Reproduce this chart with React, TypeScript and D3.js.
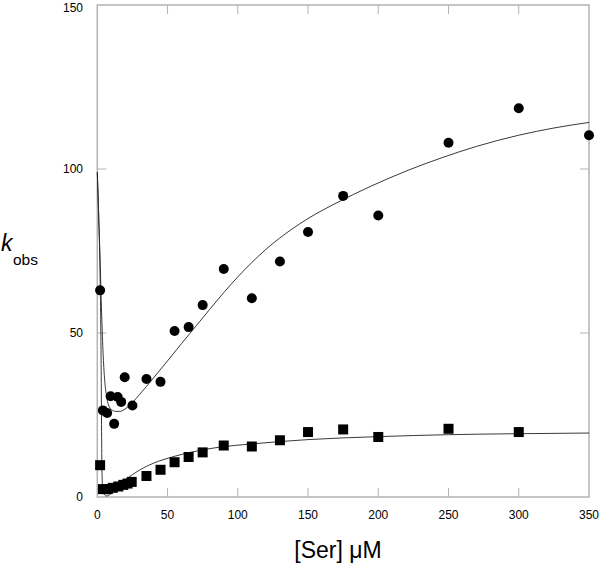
import React from "react";
import * as d3 from "d3";

const circleX = [2, 4, 7, 9.5, 12, 14.5, 17, 19.5, 25, 35, 45, 55, 65, 75, 90, 110, 130, 150, 175, 200, 250, 300, 350];
const circleY = [63, 26.4, 25.6, 30.7, 22.3, 30.5, 29, 36.5, 27.9, 36, 35.1, 50.6, 51.8, 58.5, 69.5, 60.6, 71.8, 80.8, 91.8, 85.8, 108, 118.5, 110.3];

const squareX = [2, 4, 7.5, 11, 15, 18.5, 21.5, 24.5, 35, 45, 55, 65, 75, 90, 110, 130, 150, 175, 200, 250, 300];
const squareY = [9.7, 2.4, 2.4, 2.8, 3.2, 3.7, 4.1, 4.6, 6.4, 8.3, 10.6, 12.2, 13.6, 15.7, 15.4, 17.3, 19.8, 20.6, 18.3, 20.8, 19.8];

const fitCircleX = [0, 1, 2, 3, 4, 5, 6.5, 8, 10, 13, 16, 19, 22, 25, 30, 40, 50, 60, 70, 80, 90, 100, 110, 120, 130, 140, 150, 170, 195, 220, 245, 270, 300, 325, 350];
const fitCircleY = [99, 85, 72, 57, 45, 37, 31, 28, 26.7, 26.1, 26.1, 26.6, 27.6, 28.8, 31.2, 36.3, 41.5, 46.8, 52, 57.2, 62.3, 67.1, 71.5, 75.5, 79.0, 82.1, 84.9, 89.6, 94.8, 99.4, 103.4, 106.9, 110.3, 112.5, 114.2];

const fitSquareX = [0, 1, 1.8, 2.7, 3.2, 3.6, 4.5, 6.5, 9, 12, 16, 20, 25, 30, 40, 55, 66, 87, 108, 130, 150, 200, 250, 300, 350];
const fitSquareY = [99, 86, 72, 42, 12, 4, 1.2, 0.3, 0.8, 2, 3.8, 5.3, 6.8, 8.2, 10.3, 12.4, 13.6, 15.2, 16.1, 16.9, 17.5, 18.4, 19, 19.3, 19.5];

const xTicks = [0, 50, 100, 150, 200, 250, 300, 350];
const yTicks = [0, 50, 100, 150];

const W = 600;
const H = 565;
const L = 97.3;
const R = 589;
const T = 5;
const B = 497;
const FONT = "'Liberation Sans', Arial, Helvetica, sans-serif";

export default function App() {
  const x = d3.scaleLinear().domain([0, 350]).range([L, R]);
  const y = d3.scaleLinear().domain([0, 150]).range([B, T]);
  const line = d3
    .line<[number, number]>()
    .x((d) => x(d[0]))
    .y((d) => y(d[1]))
    .curve(d3.curveMonotoneX);
  const c1 = line(fitCircleX.map((v, i) => [v, fitCircleY[i]] as [number, number])) || "";
  const c2 = line(fitSquareX.map((v, i) => [v, fitSquareY[i]] as [number, number])) || "";
  const axisColor = "#b3b3b3";
  const tickLen = 9;
  const sq = 10;

  return (
    <svg
      width={W}
      height={H}
      style={{ position: "absolute", left: 0, top: 0, background: "#fff" }}
      fontFamily={FONT}
    >
      <rect x={0} y={0} width={W} height={H} fill="#fff" />
      {xTicks.slice(1, -1).map((t) => (
        <g key={"xt" + t}>
          <line x1={x(t)} x2={x(t)} y1={B} y2={B - tickLen} stroke={axisColor} strokeWidth={1} />
          <line x1={x(t)} x2={x(t)} y1={T} y2={T + tickLen} stroke={axisColor} strokeWidth={1} />
        </g>
      ))}
      {yTicks.slice(1, -1).map((t) => (
        <g key={"yt" + t}>
          <line x1={L} x2={L + tickLen} y1={y(t)} y2={y(t)} stroke={axisColor} strokeWidth={1} />
          <line x1={R} x2={R - tickLen} y1={y(t)} y2={y(t)} stroke={axisColor} strokeWidth={1} />
        </g>
      ))}
      <rect x={L} y={T} width={R - L} height={B - T} fill="none" stroke={axisColor} strokeWidth={1.5} />
      {xTicks.map((t) => (
        <text key={"xl" + t} x={x(t)} y={519} fontSize={12} textAnchor="middle" fill="#000">
          {t}
        </text>
      ))}
      {yTicks.map((t) => (
        <text key={"yl" + t} x={83} y={Math.max(y(t) + 4.3, 11.5)} fontSize={12} textAnchor="end" fill="#000">
          {t}
        </text>
      ))}
      <path d={c1} fill="none" stroke="#222" strokeWidth={0.9} />
      <path d={c2} fill="none" stroke="#222" strokeWidth={0.9} />
      {circleX.map((v, i) => (
        <circle key={"c" + i} cx={x(v)} cy={y(circleY[i])} r={5} fill="#000" />
      ))}
      {squareX.map((v, i) => (
        <rect key={"s" + i} x={x(v) - sq / 2} y={y(squareY[i]) - sq / 2} width={sq} height={sq} fill="#000" />
      ))}
      <text x={338} y={558} fontSize={23} textAnchor="middle" fill="#000">
        [Ser] μM
      </text>
      <text x={1} y={251} fontSize={23} fontStyle="italic" fill="#000">
        k
      </text>
      <text x={13} y={265} fontSize={15.5} fill="#000">
        obs
      </text>
    </svg>
  );
}
